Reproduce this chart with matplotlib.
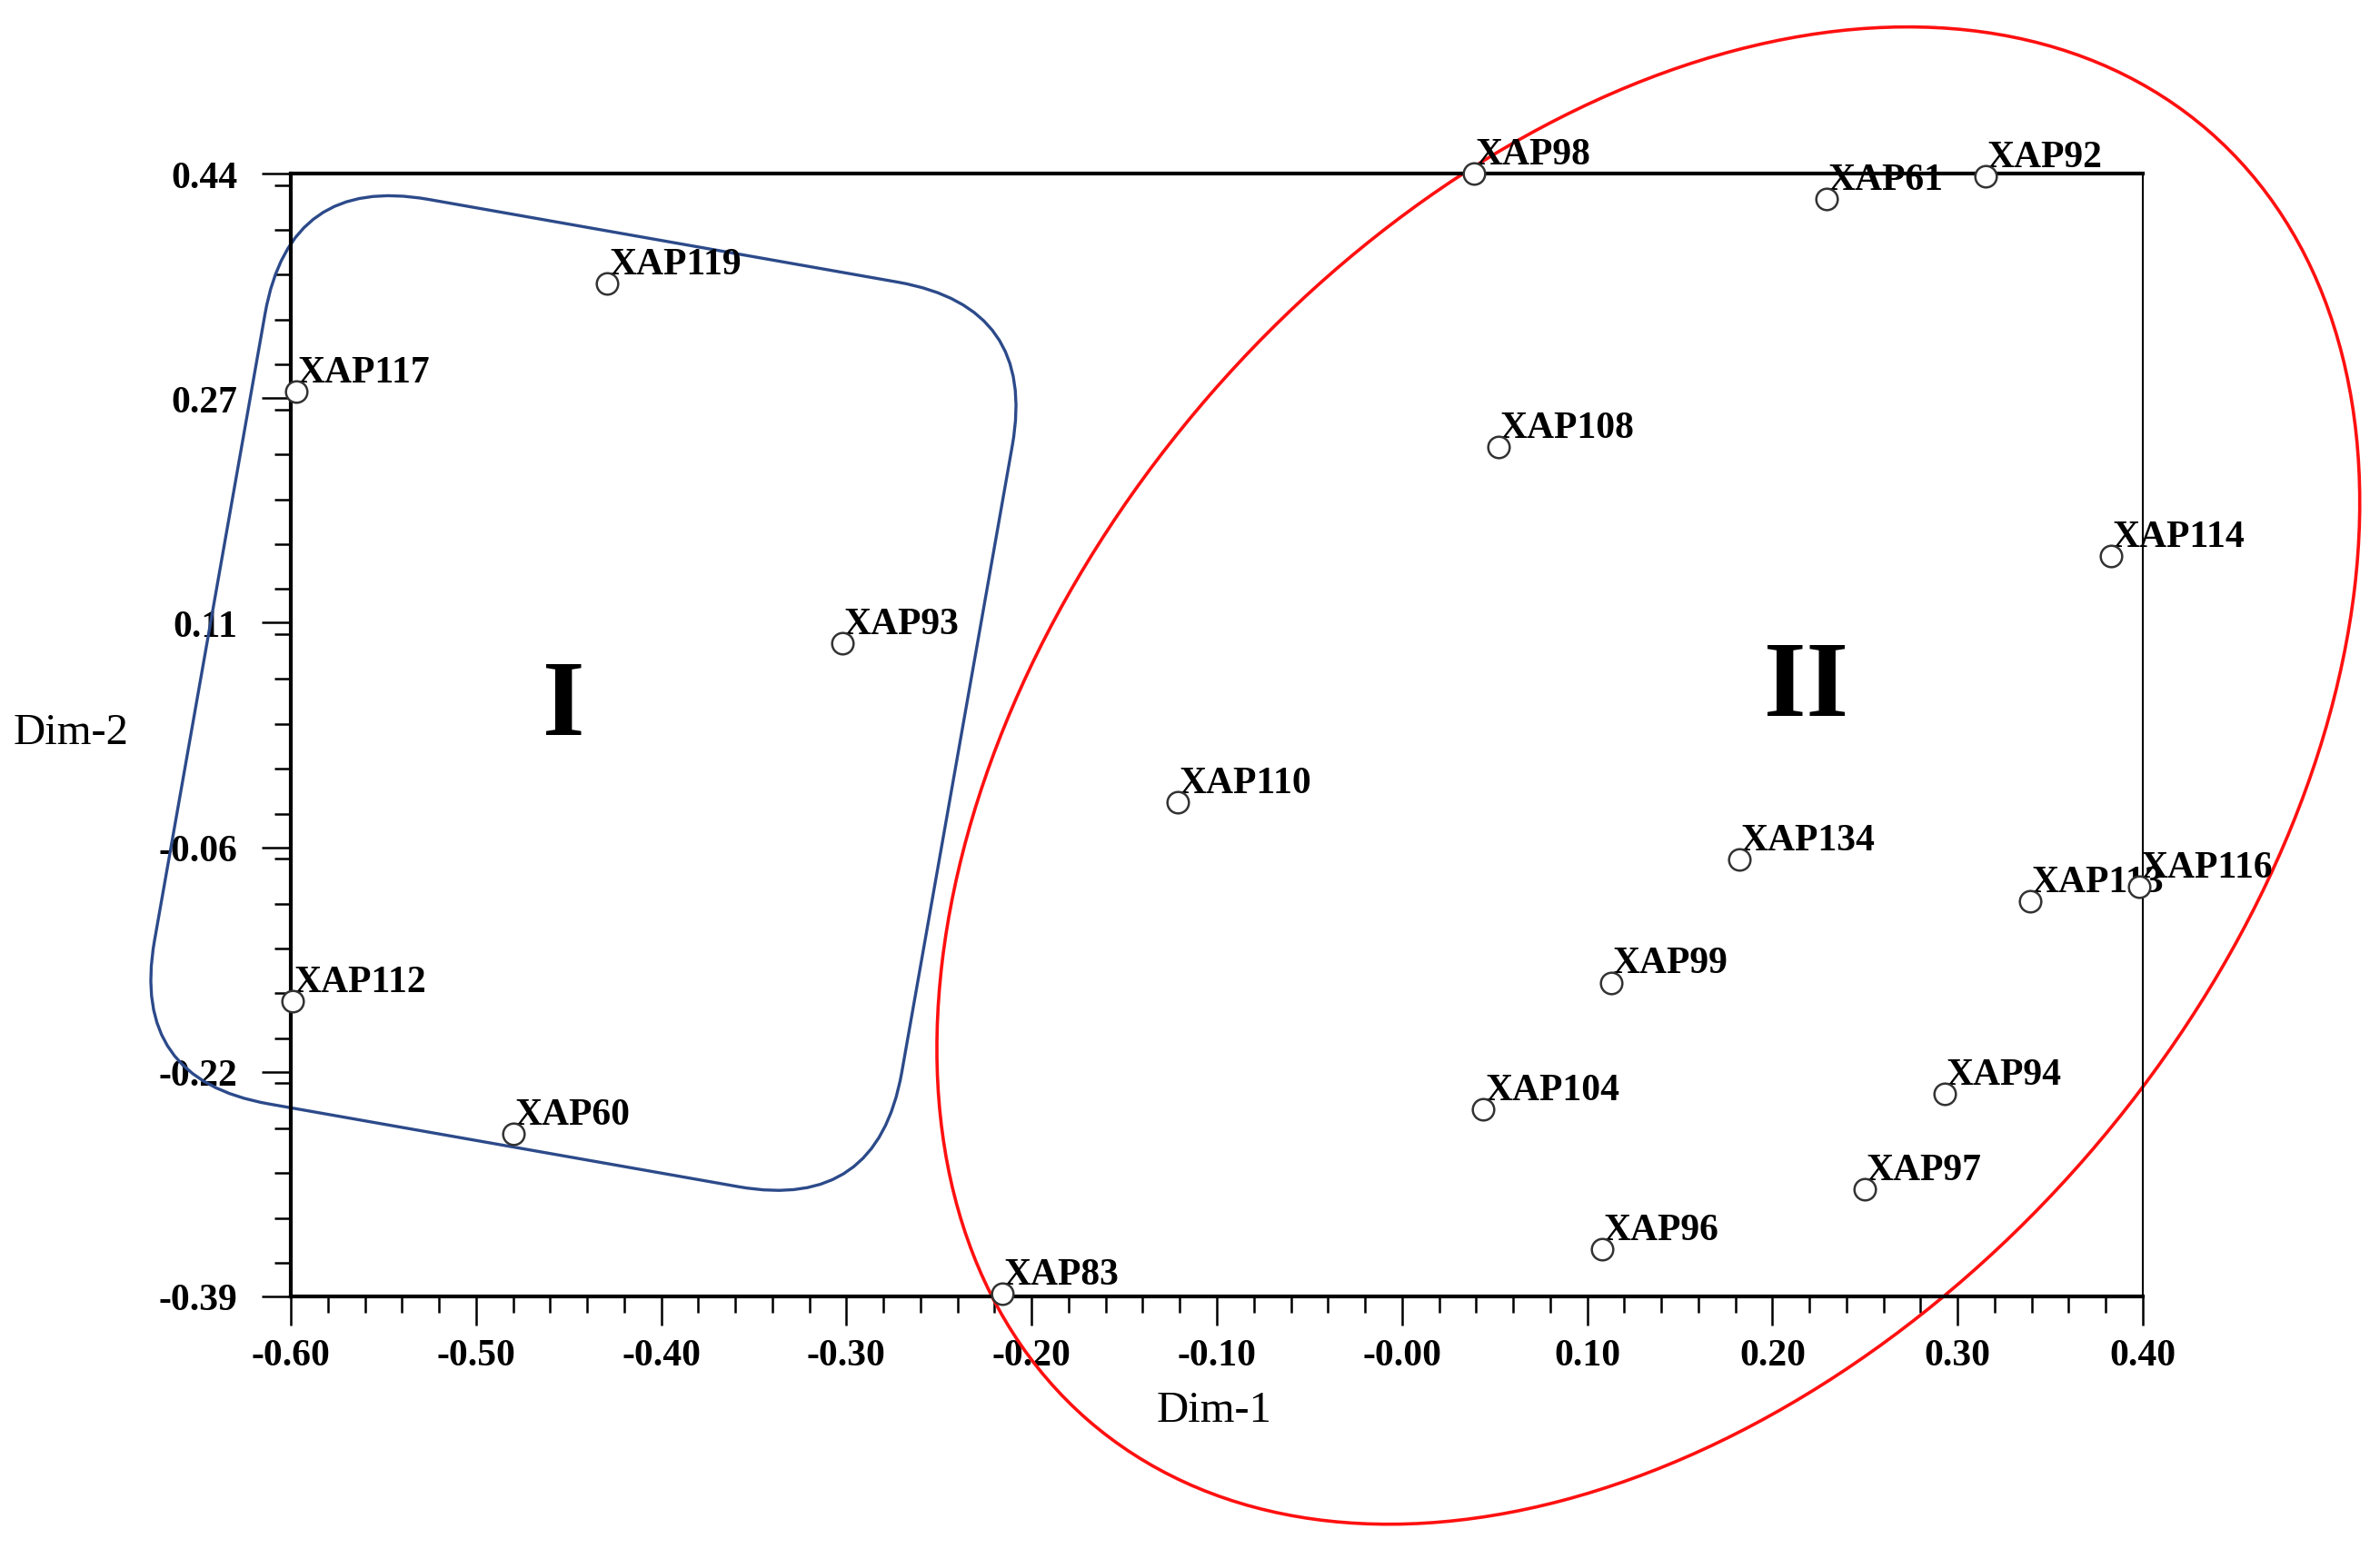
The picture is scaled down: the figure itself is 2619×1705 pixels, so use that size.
import numpy as np
import matplotlib
matplotlib.use("Agg")
import matplotlib.pyplot as plt
from matplotlib.patches import FancyBboxPatch, Ellipse
from matplotlib.transforms import Affine2D
from matplotlib.ticker import MultipleLocator

plt.rcParams['font.family'] = ['Liberation Serif', 'DejaVu Serif']

# accessions and their coordinates on the two dimensions
names = ["XAP98", "XAP61", "XAP92", "XAP119", "XAP117", "XAP108", "XAP114",
         "XAP93", "XAP110", "XAP134", "XAP116", "XAP113", "XAP99", "XAP112",
         "XAP94", "XAP104", "XAP60", "XAP97", "XAP96", "XAP83"]
dim1 = [0.039, 0.229, 0.315, -0.429, -0.597, 0.052, 0.383,
        -0.302, -0.121, 0.182, 0.398, 0.339, 0.113, -0.599,
        0.293, 0.044, -0.480, 0.250, 0.108, -0.216]
dim2 = [0.440, 0.421, 0.438, 0.359, 0.279, 0.238, 0.157,
        0.093, -0.025, -0.067, -0.087, -0.098, -0.158, -0.172,
        -0.240, -0.252, -0.270, -0.311, -0.355, -0.388]

xticks = [-0.6, -0.5, -0.4, -0.3, -0.2, -0.1, 0.0, 0.1, 0.2, 0.3, 0.4]
xticklabels = ["-0.60", "-0.50", "-0.40", "-0.30", "-0.20", "-0.10",
               "-0.00", "0.10", "0.20", "0.30", "0.40"]
yticks = list(np.linspace(-0.39, 0.44, 6))
yticklabels = ["-0.39", "-0.22", "-0.06", "0.11", "0.27", "0.44"]

# cluster labels
groups = ["I", "II"]
group_x = [-0.4525, 0.218]
group_y = [0.045, 0.059]

fig = plt.figure(figsize=(26.19, 17.06), dpi=100)
ax = fig.add_axes([320 / 2619, 278 / 1706, 2038 / 2619, 1236 / 1706])
ax.set_xlim(-0.6, 0.4)
ax.set_ylim(-0.39, 0.44)

for side in ['left', 'bottom', 'top']:
    ax.spines[side].set_linewidth(3)
ax.spines['right'].set_linewidth(1.5)

ax.set_xticks(xticks)
ax.set_xticklabels(xticklabels, fontsize=30, fontweight='bold')
ax.set_yticks(yticks)
ax.set_yticklabels(yticklabels, fontsize=30, fontweight='bold')
ax.xaxis.set_minor_locator(MultipleLocator(0.02))
ax.yaxis.set_minor_locator(MultipleLocator((0.44 + 0.39) / 25))
ax.tick_params(which='major', direction='out', length=23, width=1.8)
ax.tick_params(which='minor', direction='out', length=13, width=1.8)
ax.tick_params(axis='x', which='major', pad=10)
ax.tick_params(axis='y', which='major', pad=19)
ax.tick_params(top=False, right=False, which='both')

ax.set_xlabel('Dim-1', fontsize=35, va='center')
ax.xaxis.set_label_coords(0.4985, -0.101)
ax.set_ylabel('Dim-2', fontsize=35, rotation=0, ha='center', va='center')
ax.yaxis.set_label_coords(-0.1187, 0.5024)

# points and labels
ax.plot(dim1, dim2, 'o', ms=17, mfc='white', mec='#333333', mew=1.8,
        clip_on=False, zorder=5)
for n, x, y in zip(names, dim1, dim2):
    ax.annotate(n, (x, y), xytext=(1, 8), textcoords='offset points',
                fontsize=30, fontweight='bold', ha='left', va='baseline',
                zorder=4, annotation_clip=False)

for g, x, y in zip(groups, group_x, group_y):
    ax.text(x, y, g, fontsize=86, fontweight='bold', ha='center', va='center')

# cluster outlines (drawn in pixel units around a data-space centre)
cx, cy = ax.transData.transform((-0.442, 0.056))
w, h, r = 835, 1011, 155
box = FancyBboxPatch((-w / 2, -h / 2), w, h,
                     boxstyle=f"round,pad=0,rounding_size={r}",
                     fill=False, ec='#2C4A8A', lw=2.4, clip_on=False, zorder=2,
                     transform=Affine2D().rotate_deg(-10).translate(cx, cy))
ax.add_patch(box)

ex, ey = ax.transData.transform((0.133, -0.005))
ell = Ellipse((0, 0), 1880, 1278, angle=49, fill=False, ec='#FF1010', lw=2.6,
              clip_on=False, zorder=2, transform=Affine2D().translate(ex, ey))
ax.add_patch(ell)

fig.savefig('out.png', dpi=100)
